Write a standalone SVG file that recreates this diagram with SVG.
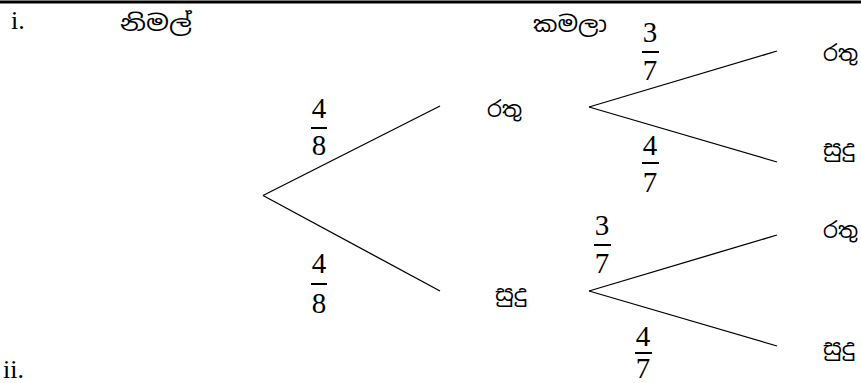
<svg xmlns="http://www.w3.org/2000/svg" width="861" height="383" viewBox="0 0 861 383">
<style>
.si{font-family:"Noto Sans Sinhala","Noto Serif Sinhala","Iskoola Pota","Noto Sans",sans-serif;font-size:22px;fill:#000}
.num{font-family:"Liberation Serif","DejaVu Serif",serif;font-size:29px;fill:#000;text-anchor:middle}
.lab{font-family:"Liberation Serif",serif;font-size:26px;fill:#000}
.bar{stroke:#000;stroke-width:2}
.edge{stroke:#000;stroke-width:1.3;fill:none}
</style>
<rect width="861" height="383" fill="#fff"/>
<line x1="0" y1="2" x2="861" y2="2" stroke="#000" stroke-width="3"/>
<text class="lab" x="11" y="29">i.</text>
<text class="lab" x="3" y="378">ii.</text>
<g id="hdr-nimal"><text class="si" x="120" y="31" textLength="72" lengthAdjust="spacingAndGlyphs">නිමල්</text></g>
<g id="hdr-kamala"><text class="si" x="533" y="32" textLength="74" lengthAdjust="spacingAndGlyphs">කමලා</text></g>
<g id="connectors">
<line class="edge" x1="263" y1="195.5" x2="440" y2="106"/>
<line class="edge" x1="263" y1="195.5" x2="440" y2="291"/>
<line class="edge" x1="589" y1="107" x2="777" y2="51"/>
<line class="edge" x1="589" y1="107" x2="777" y2="162"/>
<line class="edge" x1="589" y1="291" x2="777" y2="235"/>
<line class="edge" x1="589" y1="291" x2="777" y2="346"/>
</g>
<g id="n-red1"><text class="si" x="487" y="117" textLength="35" lengthAdjust="spacingAndGlyphs">රතු</text></g>
<g id="n-white1"><text class="si" x="495" y="301" textLength="32" lengthAdjust="spacingAndGlyphs">සුදු</text></g>
<g id="n-red-red"><text class="si" x="823" y="61" textLength="35" lengthAdjust="spacingAndGlyphs">රතු</text></g>
<g id="n-red-white"><text class="si" x="823" y="156" textLength="32" lengthAdjust="spacingAndGlyphs">සුදු</text></g>
<g id="n-white-red"><text class="si" x="823" y="238" textLength="35" lengthAdjust="spacingAndGlyphs">රතු</text></g>
<g id="n-white-white"><text class="si" x="823" y="355" textLength="32" lengthAdjust="spacingAndGlyphs">සුදු</text></g>
<g id="p1"><text class="num" x="319" y="118">4</text><line class="bar" x1="311" y1="128" x2="327" y2="128"/><text class="num" x="319" y="155">8</text></g>
<g id="p2"><text class="num" x="319" y="273">4</text><line class="bar" x1="311" y1="284" x2="327" y2="284"/><text class="num" x="319" y="313">8</text></g>
<g id="p3"><text class="num" x="650" y="42">3</text><line class="bar" x1="642" y1="52" x2="659" y2="52"/><text class="num" x="650" y="80">7</text></g>
<g id="p4"><text class="num" x="650" y="155">4</text><line class="bar" x1="642" y1="163" x2="659" y2="163"/><text class="num" x="650" y="192">7</text></g>
<g id="p5"><text class="num" x="602" y="235">3</text><line class="bar" x1="594" y1="245" x2="611" y2="245"/><text class="num" x="602" y="273">7</text></g>
<g id="p6"><text class="num" x="643" y="346">4</text><line class="bar" x1="635" y1="353" x2="652" y2="353"/><text class="num" x="643" y="378">7</text></g>
</svg>
